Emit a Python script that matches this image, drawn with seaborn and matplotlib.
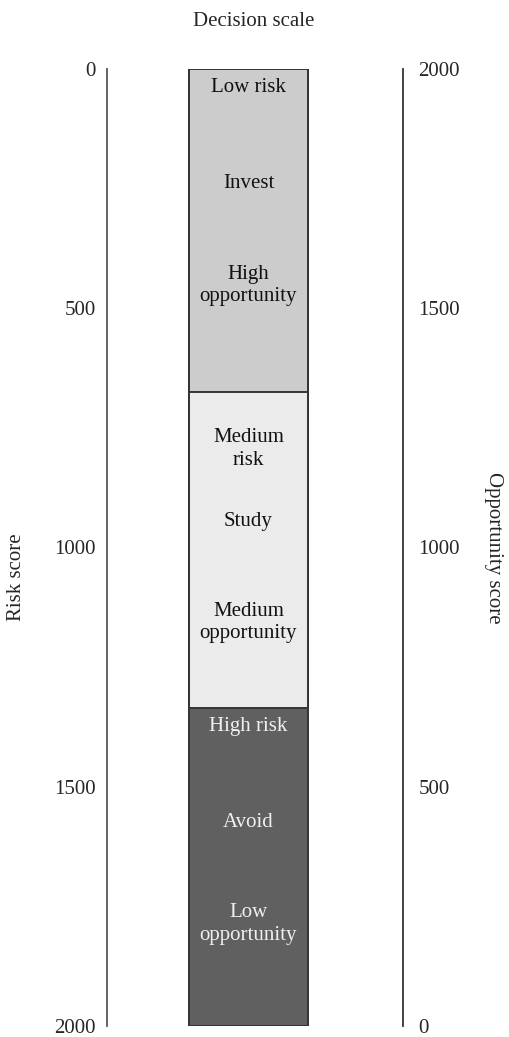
import numpy as np
import pandas as pd
import seaborn as sns
import matplotlib.pyplot as plt

sns.set_style("white")
plt.rcParams['font.family'] = ['Liberation Serif', 'DejaVu Serif']

# band edges on the risk score scale (0 = top, 2000 = bottom)
band_ends = [675, 1335, 2000]
band_colors = ['#cccccc', '#ebebeb', '#606060']
band_text_colors = ['#111111', '#111111', '#f0f0f0']
band_labels = [
    ['Low risk', 'Invest', 'High\nopportunity'],
    ['Medium\nrisk', 'Study', 'Medium\nopportunity'],
    ['High risk', 'Avoid', 'Low\nopportunity'],
]
risk_ticks = [0, 500, 1000, 1500, 2000]
opp_ticks = [0, 500, 1000, 1500, 2000]

# label centres as fraction of each band height
label_frac = [[0.057, 0.354, 0.67], [0.18, 0.41, 0.73], [0.06, 0.36, 0.68]]

FS = 15
fig = plt.figure(figsize=(5.09, 10.37), dpi=100)
W, H = 509, 1037
ax = fig.add_axes([107 / W, 1 - 1026 / H, (403 - 107) / W, (1026 - 69) / H])

# stacked bar trick: draw cumulative totals biggest first
for i in reversed(range(len(band_ends))):
    sns.barplot(x=['Decision'], y=[band_ends[i]], color=band_colors[i], width=0.402,
                edgecolor='#333333', linewidth=1.4, saturation=1, ax=ax)

ax.set_xlim(-0.478, 0.522)
ax.set_ylim(2000, 0)

starts = [0] + band_ends[:-1]
for b in range(3):
    span = band_ends[b] - starts[b]
    for j in range(3):
        ax.text(0, starts[b] + label_frac[b][j] * span, band_labels[b][j],
                ha='center', va='center', fontsize=FS, color=band_text_colors[b],
                linespacing=1.25)

for s in ['top', 'bottom', 'right']:
    ax.spines[s].set_visible(False)
ax.spines['left'].set_color('#555555')
ax.spines['left'].set_linewidth(1.3)
ax.set_xticks([])
ax.set_xlabel('')
ax.set_ylabel('')
ax.set_yticks(risk_ticks)
ax.set_yticklabels([str(t) for t in risk_ticks])
ax.tick_params(axis='y', length=0, pad=8, labelsize=FS)
for lbl in ax.get_yticklabels():
    lbl.set_va('center_baseline')

ax2 = ax.twinx()
ax2.set_ylim(0, 2000)
for s in ['top', 'bottom', 'left']:
    ax2.spines[s].set_visible(False)
ax2.spines['right'].set_color('#333333')
ax2.spines['right'].set_linewidth(1.3)
ax2.set_yticks(opp_ticks)
ax2.set_yticklabels([str(t) for t in opp_ticks])
ax2.tick_params(axis='y', length=0, pad=11, labelsize=FS)
for lbl in ax2.get_yticklabels():
    lbl.set_va('center_baseline')

fig.text(254 / W, 1 - 22 / H, 'Decision scale', ha='center', va='center', fontsize=FS)
fig.text(17 / W, 1 - 577 / H, 'Risk score', ha='center', va='center',
         rotation=90, fontsize=FS)
fig.text(493 / W, 1 - 548 / H, 'Opportunity score', ha='center', va='center',
         rotation=270, fontsize=FS)

fig.savefig('out.png', dpi=100)
